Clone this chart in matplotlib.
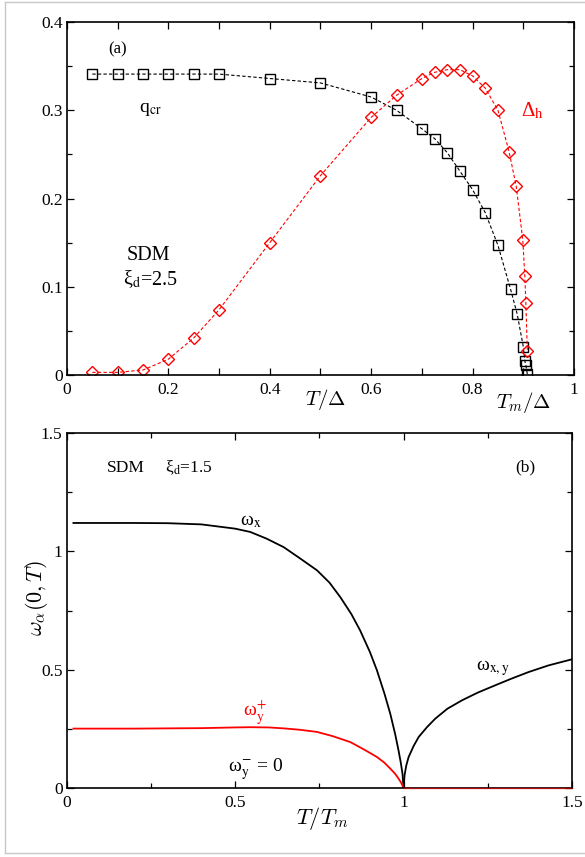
import matplotlib
matplotlib.use("Agg")
import matplotlib.pyplot as plt
from matplotlib.lines import Line2D

plt.rcParams['font.family'] = ['Liberation Serif', 'DejaVu Serif']
plt.rcParams['mathtext.fontset'] = 'cm'

# ---------------- data: panel (a) ----------------
T_q = [0.05, 0.1, 0.15, 0.2, 0.25, 0.3, 0.4, 0.5, 0.6, 0.65, 0.7, 0.725, 0.75,
       0.775, 0.8, 0.825, 0.85, 0.875, 0.888, 0.9, 0.903, 0.905, 0.908]
q_cr = [0.341, 0.341, 0.341, 0.341, 0.341, 0.341, 0.336, 0.331, 0.315, 0.300,
        0.279, 0.268, 0.252, 0.231, 0.210, 0.184, 0.147, 0.097, 0.069, 0.032,
        0.016, 0.011, 0.001]
T_d = [0.05, 0.1, 0.15, 0.2, 0.25, 0.3, 0.4, 0.5, 0.6, 0.65, 0.7, 0.725, 0.75,
       0.775, 0.8, 0.825, 0.85, 0.872, 0.886, 0.899, 0.903, 0.905, 0.908]
delta_h = [0.003, 0.003, 0.0057, 0.018, 0.042, 0.074, 0.150, 0.226, 0.292,
           0.317, 0.336, 0.343, 0.346, 0.346, 0.339, 0.325, 0.300, 0.253,
           0.214, 0.153, 0.112, 0.082, 0.027]
xt_a = [0, 0.2, 0.4, 0.6, 0.8, 1.0]
xt_a_lbl = ['0', '0.2', '0.4', '0.6', '0.8', '1']
yt_a = [0, 0.1, 0.2, 0.3, 0.4]
yt_a_lbl = ['0', '0.1', '0.2', '0.3', '0.4']

# ---------------- data: panel (b) ----------------
T_wx = [0.02, 0.1, 0.2, 0.3, 0.4, 0.5, 0.545, 0.593, 0.644, 0.693, 0.743, 0.78,
        0.812, 0.845, 0.871, 0.9, 0.921, 0.943, 0.9605, 0.975, 0.985, 0.992,
        0.997, 1.0]
w_x = [1.12, 1.12, 1.12, 1.119, 1.114, 1.096, 1.082, 1.054, 1.018, 0.970,
       0.920, 0.868, 0.807, 0.735, 0.666, 0.575, 0.497, 0.400, 0.314, 0.228,
       0.159, 0.105, 0.058, 0.0]
T_wy = [0.02, 0.2, 0.4, 0.5, 0.545, 0.6, 0.644, 0.693, 0.743, 0.79, 0.842,
        0.881, 0.921, 0.943, 0.9605, 0.975, 0.985, 0.993, 1.0]
w_yp = [0.251, 0.251, 0.253, 0.256, 0.257, 0.256, 0.252, 0.246, 0.237, 0.219,
        0.194, 0.164, 0.131, 0.107, 0.082, 0.060, 0.040, 0.022, 0.0]
T_wxy = [1.0, 1.003, 1.008, 1.015, 1.03, 1.045, 1.07, 1.094, 1.13, 1.174,
         1.22, 1.272, 1.32, 1.371, 1.43, 1.5]
w_xy = [0.0, 0.055, 0.095, 0.131, 0.178, 0.216, 0.258, 0.293, 0.335, 0.371,
        0.403, 0.434, 0.462, 0.490, 0.518, 0.544]
T_zero = [1.0, 1.5]
w_zero = [0.0, 0.0]
xt_b = [0, 0.5, 1.0, 1.5]
xt_b_lbl = ['0', '0.5', '1', '1.5']
yt_b = [0, 0.5, 1.0, 1.5]
yt_b_lbl = ['0', '0.5', '1', '1.5']

fig = plt.figure(figsize=(5.85, 8.57), dpi=100)

# light gray frame around figure
for xs, ys in [([0.0085, 0.0085], [0.0047, 0.998]),
               ([0.0085, 1.0], [0.998, 0.998]),
               ([0.0085, 1.0], [0.0047, 0.0047])]:
    fig.add_artist(Line2D(xs, ys, transform=fig.transFigure, color='#c8c8c8', lw=1.0))

def style(ax):
    for s in ax.spines.values():
        s.set_linewidth(1.2)
    ax.tick_params(which='both', direction='in', top=True, right=True,
                   labelsize=12.5, width=0.9)
    ax.tick_params(which='major', length=5)
    ax.tick_params(which='minor', length=3.5)
    ax.tick_params(axis='x', pad=5)
    ax.tick_params(axis='y', pad=3)

# ---------------- panel (a) ----------------
ax1 = fig.add_axes([0.1145, 0.5624, 0.8667, 0.4119])
ax1.plot(T_q, q_cr, color='black', lw=0.8, ls=(0, (3, 2)), marker='s', ms=7.2,
         mfc='none', mec='black', mew=1.0)
ax1.plot(T_d, delta_h, color='red', lw=0.8, ls=(0, (3, 2)), marker='D', ms=6.6,
         mfc='none', mec='red', mew=1.0)
ax1.set_xlim(0, 1)
ax1.set_ylim(0, 0.4)
ax1.set_xticks(xt_a)
ax1.set_xticklabels(xt_a_lbl)
ax1.set_xticks([0.1, 0.3, 0.5, 0.7, 0.9], minor=True)
ax1.set_yticks(yt_a)
ax1.set_yticklabels(yt_a_lbl)
ax1.set_yticks([0.05, 0.15, 0.25, 0.35], minor=True)
style(ax1)
ax1.tick_params(axis='x', which='minor', length=5)

ax1.text(0.0996, 0.3688, '(a)', fontsize=12, ha='center', va='center')
ax1.text(0.165, 0.301, 'q$_\\mathrm{cr}$', fontsize=14, ha='center', va='center',
         math_fontfamily='stix')
ax1.text(0.918, 0.2994, 'Δ$_\\mathrm{h}$', fontsize=15, ha='center', va='center',
         color='red', math_fontfamily='stix')
ax1.text(0.1604, 0.136, 'SDM', fontsize=14.5, ha='center', va='center')
ax1.text(0.1637, 0.1088, 'ξ$_\\mathrm{d}$=2.5', fontsize=14.5, ha='center', va='center',
         math_fontfamily='stix')
ax1.text(0.509, -0.068, r'$T/\Delta$', fontsize=15, ha='center', va='center',
         transform=ax1.transAxes)
ax1.text(0.901, -0.078, r'$T_m/\Delta$', fontsize=15, ha='center', va='center',
         transform=ax1.transAxes)

# ---------------- panel (b) ----------------
ax2 = fig.add_axes([0.1140, 0.0805, 0.8638, 0.4142])
ax2.plot(T_wx, w_x, color='black', lw=1.3)
ax2.plot(T_wxy, w_xy, color='black', lw=1.3)
ax2.plot(T_wy, w_yp, color='red', lw=1.3)
ax2.plot(T_zero, w_zero, color='red', lw=1.0, alpha=0.6, clip_on=False, zorder=5)
ax2.set_xlim(0, 1.5)
ax2.set_ylim(0, 1.5)
ax2.set_xticks(xt_b)
ax2.set_xticklabels(xt_b_lbl)
ax2.set_xticks([0.25, 0.75, 1.25], minor=True)
ax2.set_yticks(yt_b)
ax2.set_yticklabels(yt_b_lbl)
ax2.set_yticks([0.25, 0.75, 1.25], minor=True)
style(ax2)

ax2.text(0.119, 1.336, 'SDM', fontsize=12.5, ha='left', va='baseline')
ax2.text(0.292, 1.336, 'ξ$_\\mathrm{d}$=1.5', fontsize=12.5, ha='left', va='baseline',
         math_fontfamily='stix')
ax2.text(1.3616, 1.353, '(b)', fontsize=12.5, ha='center', va='center')
ax2.text(0.5475, 1.127, 'ω$_\\mathrm{x}$', fontsize=14, ha='center', va='center',
         math_fontfamily='stix')
ax2.text(1.2665, 0.506, 'ω$_\\mathrm{x,y}$', fontsize=14, ha='center', va='center',
         math_fontfamily='stix')
ax2.text(0.559, 0.316, 'ω$_\\mathrm{y}^{+}$', fontsize=14, ha='center', va='center',
         color='red', math_fontfamily='stix')
ax2.text(0.480, 0.0676, 'ω$_\\mathrm{y}^{-}$ = 0', fontsize=14, ha='left', va='baseline',
         math_fontfamily='stix')
ax2.text(-0.0594, 0.536, r'$\omega_\alpha(0,T)$', fontsize=16, rotation=90,
         ha='center', va='center', transform=ax2.transAxes)
ax2.text(0.505, -0.085, r'$T/T_m$', fontsize=16, ha='center', va='center',
         transform=ax2.transAxes)

fig.savefig('out.png', dpi=100)
